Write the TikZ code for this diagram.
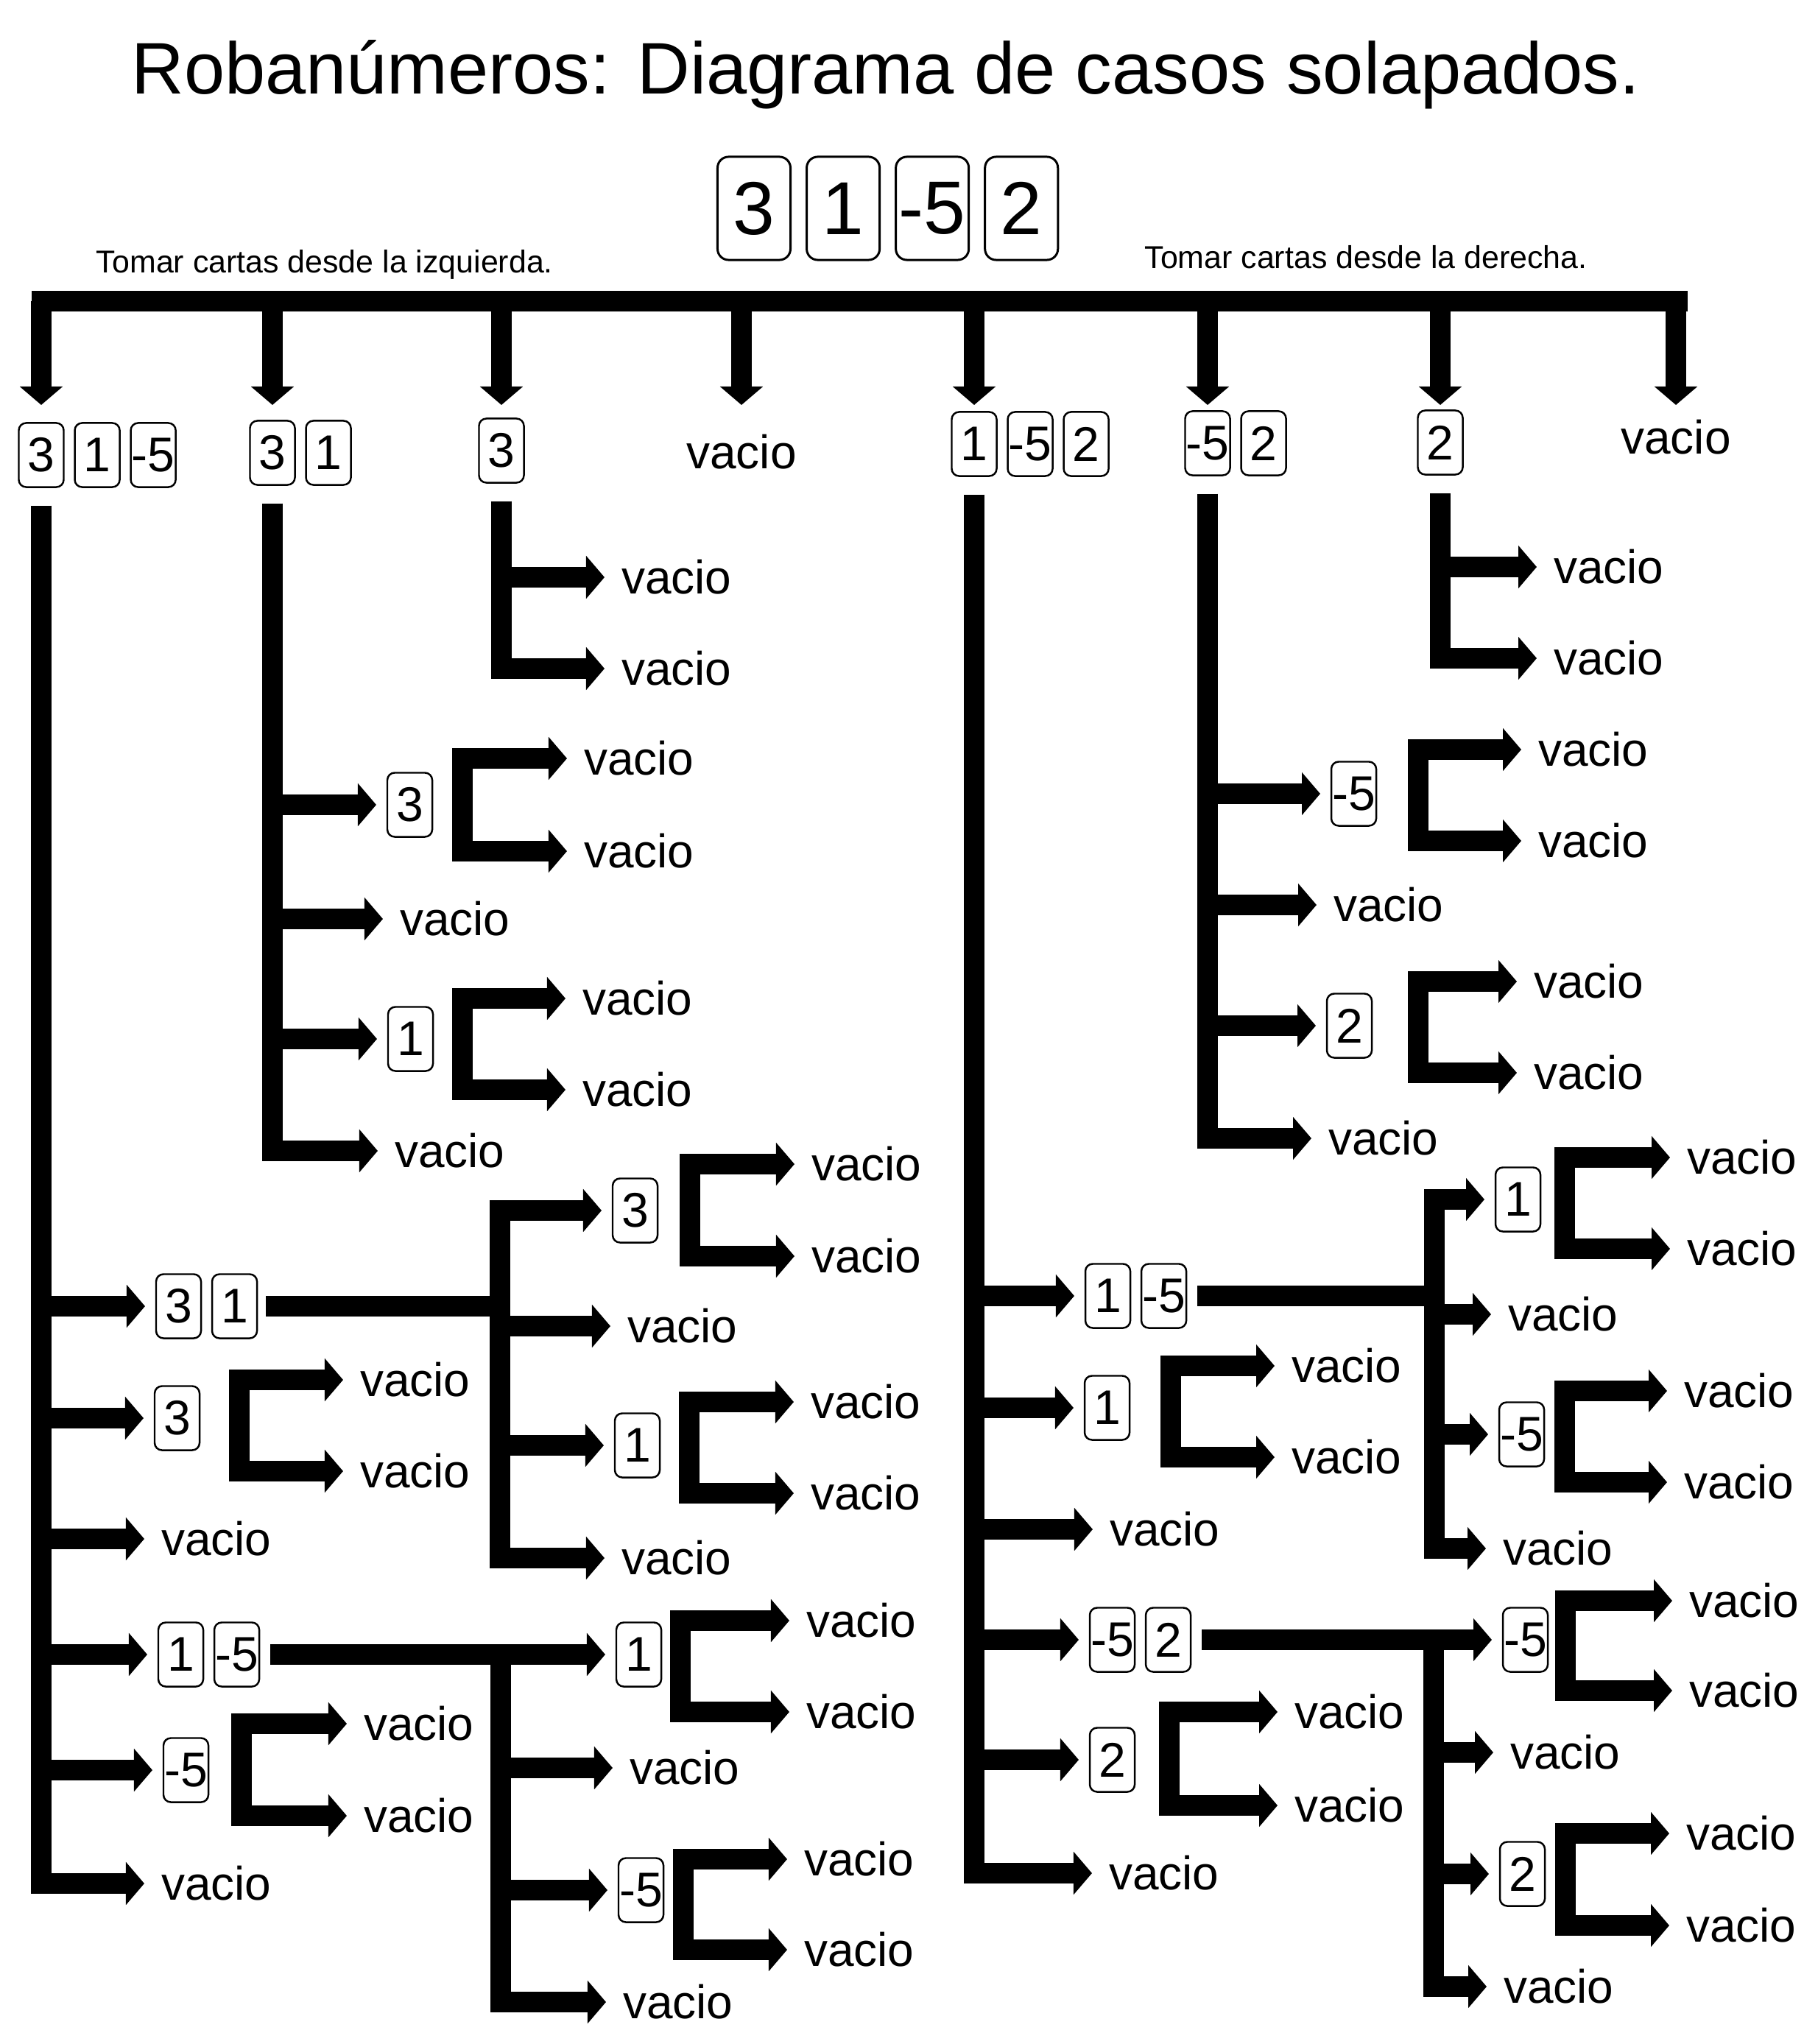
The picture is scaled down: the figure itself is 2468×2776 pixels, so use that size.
\documentclass[tikz,border=0pt]{standalone}
\usepackage{fontspec}
\setmainfont{Liberation Sans}
\usetikzlibrary{
    arrows.meta,
    positioning
}
\tikzset{
  card/.style    = {draw, rounded corners=0.1cm, line width=0.7pt, minimum width=0.61cm,
                    minimum height=0.87cm, inner sep=0pt, outer sep=0pt,
                    font={\fontsize{18.8}{20}\selectfont}},
  bigcard/.style = {draw, rounded corners=0.15cm, line width=0.85pt, minimum width=0.99cm,
                    minimum height=1.4cm, inner sep=0pt, outer sep=0pt,
                    font={\fontsize{29}{32}\selectfont}},
  vac/.style     = {anchor=west, inner xsep=0.08cm, inner ysep=0pt, outer sep=0pt,
                    font={\fontsize{18.2}{20}\selectfont}},
  arr/.style     = {-{Triangle[length=0.25cm, width=0.57cm]}, line width=0.28cm,
                    line join=miter, shorten >=0.15cm},
  brk/.style     = {{Triangle[length=0.25cm, width=0.57cm]}-{Triangle[length=0.25cm, width=0.57cm]},
                    line width=0.28cm, line join=miter, shorten <=0.15cm, shorten >=0.15cm},
  lnk/.style     = {line width=0.28cm}
}

\begin{document}
\begin{tikzpicture}[x=0.01cm, y=-0.01cm]
    \fill[white] (0,0) rectangle (2468,2776);
    \useasboundingbox (0,0) rectangle (2468,2776);

    % title and deck
    \node[font={\fontsize{28.2}{32}\selectfont}, anchor=base] (title) at (1203,128)
        {Robanúmeros: Diagrama de casos solapados.};
    \node[bigcard] (t1) at (1024,283) {3};
    \node[bigcard, right=0.22cm of t1] (t2) {1};
    \node[bigcard, right=0.22cm of t2] (t3) {-5};
    \node[bigcard, right=0.22cm of t3] (t4) {2};
    \node[font={\fontsize{12.2}{14}\selectfont}, anchor=base] (izq) at (441,370)
        {Tomar cartas desde la izquierda.};
    \node[font={\fontsize{12.2}{14}\selectfont}, anchor=base] (der) at (1855,365)
        {Tomar cartas desde la derecha.};

    \node[fill, inner sep=0pt, minimum width=22.48cm, minimum height=0.28cm,
          anchor=west] (bar) at (42,409) {};
    \coordinate (tips) at (0,565);

    % first level
    \node[card] (la1) at (56,618) {3};
    \node[card, right=0.15cm of la1] (la2) {1};
    \node[card, right=0.15cm of la2] (la3) {-5};
    \node[card] (lb1) at (370,615) {3};
    \node[card, right=0.15cm of lb1] (lb2) {1};
    \node[card] (lc1) at (681,612) {3};
    \node[vac, anchor=center] (ld) at (1007,614) {vacio};
    \node[card] (le1) at (1323,603) {1};
    \node[card, right=0.15cm of le1] (le2) {-5};
    \node[card, right=0.15cm of le2] (le3) {2};
    \node[card] (lf1) at (1640,602) {-5};
    \node[card, right=0.15cm of lf1] (lf2) {2};
    \node[card] (lg1) at (1956,601) {2};
    \node[vac, anchor=center] (lh) at (2276,594) {vacio};

    \draw[arr] (bar.center -| la1) -- (la1 |- tips);
    \draw[arr] (bar.center -| lb1) -- (lb1 |- tips);
    \draw[arr] (bar.center -| lc1) -- (lc1 |- tips);
    \draw[arr] (bar.center -| ld) -- (ld |- tips);
    \draw[arr] (bar.center -| le1) -- (le1 |- tips);
    \draw[arr] (bar.center -| lf1) -- (lf1 |- tips);
    \draw[arr] (bar.center -| lg1) -- (lg1 |- tips);
    \draw[arr] (bar.center -| lh) -- (lh |- tips);

    % column 3 1 -5
    \node[card, anchor=west] (a1a) at (212,1774) {3};
    \node[card, right=0.15cm of a1a] (a1b) {1};
    \node[card, anchor=west] (a2) at (210,1926) {3};
    \node[vac] (a2u) at (481,1874) {vacio};
    \node[vac] (a2d) at (481,1998) {vacio};
    \node[vac] (a3) at (211,2090) {vacio};
    \node[card, anchor=west] (a4a) at (215,2247) {1};
    \node[card, right=0.15cm of a4a] (a4b) {-5};
    \node[card, anchor=west] (a5) at (222,2404) {-5};
    \node[vac] (a5u) at (486,2341) {vacio};
    \node[vac] (a5d) at (486,2466) {vacio};
    \node[vac] (a6) at (211,2558) {vacio};

    \coordinate (s1) at (679,1774);
    \node[card, anchor=west] (a1s1) at (832,1644) {3};
    \node[vac] (a1s1u) at (1094,1581) {vacio};
    \node[vac] (a1s1d) at (1094,1706) {vacio};
    \node[vac] (a1s2) at (844,1801) {vacio};
    \node[card, anchor=west] (a1s3) at (835,1963) {1};
    \node[vac] (a1s3u) at (1093,1904) {vacio};
    \node[vac] (a1s3d) at (1093,2028) {vacio};
    \node[vac] (a1s4) at (836,2116) {vacio};

    \coordinate (s2) at (680,2247);
    \node[card, anchor=west] (a4s1) at (837,2247) {1};
    \node[vac] (a4s1u) at (1087,2201) {vacio};
    \node[vac] (a4s1d) at (1087,2325) {vacio};
    \node[vac] (a4s2) at (847,2401) {vacio};
    \node[card, anchor=west] (a4s3) at (840,2567) {-5};
    \node[vac] (a4s3u) at (1084,2525) {vacio};
    \node[vac] (a4s3d) at (1084,2648) {vacio};
    \node[vac] (a4s4) at (838,2719) {vacio};

    \draw[arr] ([yshift=-0.25cm]la1.south) |- (a6.west);
    \draw[arr] (a1a.west -| la1) -- (a1a.west);
    \draw[arr] (a2.west -| la1) -- (a2.west);
    \draw[arr] (a3.west -| la1) -- (a3.west);
    \draw[arr] (a4a.west -| la1) -- (a4a.west);
    \draw[arr] (a5.west -| la1) -- (a5.west);
    \draw[brk] (a2u.west) -| ([xshift=0.54cm]a2.east) |- (a2d.west);
    \draw[brk] (a5u.west) -| ([xshift=0.45cm]a5.east) |- (a5d.west);

    \draw[lnk] ([xshift=0.12cm]a1b.east) -- (s1);
    \draw[brk] (a1s1.west) -| (s1) |- (a1s4.west);
    \draw[arr] (a1s2.west -| s1) -- (a1s2.west);
    \draw[arr] (a1s3.west -| s1) -- (a1s3.west);
    \draw[brk] (a1s1u.west) -| ([xshift=0.44cm]a1s1.east) |- (a1s1d.west);
    \draw[brk] (a1s3u.west) -| ([xshift=0.40cm]a1s3.east) |- (a1s3d.west);

    \draw[lnk] ([xshift=0.15cm]a4b.east) -- (s2);
    \draw[brk] (a4s1.west) -- (a4s1.west -| s2) |- (a4s4.west);
    \draw[arr] (a4s2.west -| s2) -- (a4s2.west);
    \draw[arr] (a4s3.west -| s2) -- (a4s3.west);
    \draw[brk] (a4s1u.west) -| ([xshift=0.26cm]a4s1.east) |- (a4s1d.west);
    \draw[brk] (a4s3u.west) -| ([xshift=0.27cm]a4s3.east) |- (a4s3d.west);

    % column 3 1
    \node[card, anchor=west] (b1) at (526,1093) {3};
    \node[vac] (b1u) at (785,1030) {vacio};
    \node[vac] (b1d) at (785,1156) {vacio};
    \node[vac] (b2) at (535,1248) {vacio};
    \node[card, anchor=west] (b3) at (527,1411) {1};
    \node[vac] (b3u) at (783,1356) {vacio};
    \node[vac] (b3d) at (783,1480) {vacio};
    \node[vac] (b4) at (528,1563) {vacio};

    \draw[arr] ([yshift=-0.25cm]lb1.south) |- (b4.west);
    \draw[arr] (b1.west -| lb1) -- (b1.west);
    \draw[arr] (b2.west -| lb1) -- (b2.west);
    \draw[arr] (b3.west -| lb1) -- (b3.west);
    \draw[brk] (b1u.west) -| ([xshift=0.41cm]b1.east) |- (b1d.west);
    \draw[brk] (b3u.west) -| ([xshift=0.40cm]b3.east) |- (b3d.west);

    % column 3
    \node[vac] (c1) at (836,784) {vacio};
    \node[vac] (c2) at (836,908) {vacio};
    \draw[arr] ([yshift=-0.25cm]lc1.south) |- (c2.west);
    \draw[arr] (c1.west -| lc1) -- (c1.west);

    % column 1 -5 2
    \node[card, anchor=west] (e1a) at (1474,1760) {1};
    \node[card, right=0.15cm of e1a] (e1b) {-5};
    \node[card, anchor=west] (e2) at (1473,1912) {1};
    \node[vac] (e2u) at (1746,1855) {vacio};
    \node[vac] (e2d) at (1746,1979) {vacio};
    \node[vac] (e3) at (1499,2077) {vacio};
    \node[card, anchor=west] (e4a) at (1480,2227) {-5};
    \node[card, right=0.15cm of e4a] (e4b) {2};
    \node[card, anchor=west] (e5) at (1480,2390) {2};
    \node[vac] (e5u) at (1750,2325) {vacio};
    \node[vac] (e5d) at (1750,2452) {vacio};
    \node[vac] (e6) at (1498,2544) {vacio};

    \coordinate (s3) at (1948,1760);
    \node[card, anchor=west] (e1s1) at (2031,1629) {1};
    \node[vac] (e1s1u) at (2283,1572) {vacio};
    \node[vac] (e1s1d) at (2283,1696) {vacio};
    \node[vac] (e1s2) at (2040,1785) {vacio};
    \node[card, anchor=west] (e1s3) at (2036,1948) {-5};
    \node[vac] (e1s3u) at (2279,1889) {vacio};
    \node[vac] (e1s3d) at (2279,2013) {vacio};
    \node[vac] (e1s4) at (2033,2103) {vacio};

    \coordinate (s4) at (1947,2227);
    \node[card, anchor=west] (e4s1) at (2041,2227) {-5};
    \node[vac] (e4s1u) at (2286,2174) {vacio};
    \node[vac] (e4s1d) at (2286,2296) {vacio};
    \node[vac] (e4s2) at (2043,2380) {vacio};
    \node[card, anchor=west] (e4s3) at (2037,2545) {2};
    \node[vac] (e4s3u) at (2282,2490) {vacio};
    \node[vac] (e4s3d) at (2282,2615) {vacio};
    \node[vac] (e4s4) at (2034,2698) {vacio};

    \draw[arr] ([yshift=-0.25cm]le1.south) |- (e6.west);
    \draw[arr] (e1a.west -| le1) -- (e1a.west);
    \draw[arr] (e2.west -| le1) -- (e2.west);
    \draw[arr] (e3.west -| le1) -- (e3.west);
    \draw[arr] (e4a.west -| le1) -- (e4a.west);
    \draw[arr] (e5.west -| le1) -- (e5.west);
    \draw[brk] (e2u.west) -| ([xshift=0.56cm]e2.east) |- (e2d.west);
    \draw[brk] (e5u.west) -| ([xshift=0.47cm]e5.east) |- (e5d.west);

    \draw[lnk] ([xshift=0.15cm]e1b.east) -- (s3);
    \draw[brk] (e1s1.west) -| (s3) |- (e1s4.west);
    \draw[arr] (e1s2.west -| s3) -- (e1s2.west);
    \draw[arr] (e1s3.west -| s3) -- (e1s3.west);
    \draw[brk] (e1s1u.west) -| ([xshift=0.33cm]e1s1.east) |- (e1s1d.west);
    \draw[brk] (e1s3u.west) -| ([xshift=0.28cm]e1s3.east) |- (e1s3d.west);

    \draw[lnk] ([xshift=0.15cm]e4b.east) -- (s4);
    \draw[brk] (e4s1.west) -- (e4s1.west -| s4) |- (e4s4.west);
    \draw[arr] (e4s2.west -| s4) -- (e4s2.west);
    \draw[arr] (e4s3.west -| s4) -- (e4s3.west);
    \draw[brk] (e4s1u.west) -| ([xshift=0.24cm]e4s1.east) |- (e4s1d.west);
    \draw[brk] (e4s3u.west) -| ([xshift=0.28cm]e4s3.east) |- (e4s3d.west);

    % column -5 2
    \node[card, anchor=west] (f1) at (1808,1078) {-5};
    \node[vac] (f1u) at (2081,1018) {vacio};
    \node[vac] (f1d) at (2081,1142) {vacio};
    \node[vac] (f2) at (1803,1229) {vacio};
    \node[card, anchor=west] (f3) at (1802,1393) {2};
    \node[vac] (f3u) at (2075,1333) {vacio};
    \node[vac] (f3d) at (2075,1457) {vacio};
    \node[vac] (f4) at (1796,1546) {vacio};

    \draw[arr] ([yshift=-0.25cm]lf1.south) |- (f4.west);
    \draw[arr] (f1.west -| lf1) -- (f1.west);
    \draw[arr] (f2.west -| lf1) -- (f2.west);
    \draw[arr] (f3.west -| lf1) -- (f3.west);
    \draw[brk] (f1u.west) -| ([xshift=0.57cm]f1.east) |- (f1d.west);
    \draw[brk] (f3u.west) -| ([xshift=0.63cm]f3.east) |- (f3d.west);

    % column 2
    \node[vac] (g1) at (2102,770) {vacio};
    \node[vac] (g2) at (2102,894) {vacio};
    \draw[arr] ([yshift=-0.25cm]lg1.south) |- (g2.west);
    \draw[arr] (g1.west -| lg1) -- (g1.west);
\end{tikzpicture}
\end{document}
